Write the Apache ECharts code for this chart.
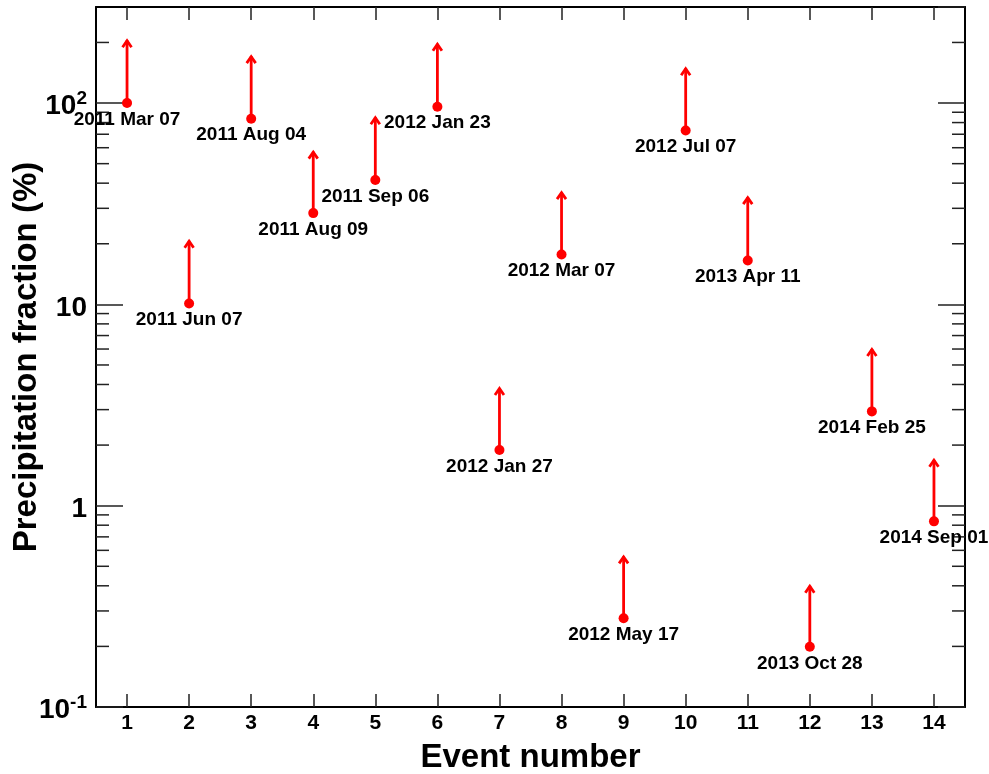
<!DOCTYPE html>
<html>
<head>
<meta charset="utf-8">
<script src="https://cdn.jsdelivr.net/npm/echarts@6/dist/echarts.min.js"></script>
<style>
html,body{margin:0;padding:0;background:#fff;}
#chart{width:989px;height:774px;}
</style>
</head>
<body>
<div id="chart"></div>
<script>
// ---- data ----
const eventNumbers = ['1','2','3','4','5','6','7','8','9','10','11','12','13','14'];
const eventDates = ['2011 Mar 07','2011 Jun 07','2011 Aug 04','2011 Aug 09','2011 Sep 06','2012 Jan 23',
  '2012 Jan 27','2012 Mar 07','2012 May 17','2012 Jul 07','2013 Apr 11','2013 Oct 28','2014 Feb 25','2014 Sep 01'];
const fractionValues = [100, 10.1, 83.6, 28.4, 41.5, 95.9, 1.89, 17.7, 0.276, 73.1, 16.5, 0.199, 2.94, 0.836];
const arrowTips = [205, 20.7, 171, 57.4, 85, 197, 3.84, 36.1, 0.56, 149, 34.1, 0.40, 6.0, 1.69];
const yMin = 0.1, yMax = 300;
const minorTickValues = [0.2,0.3,0.4,0.5,0.6,0.7,0.8,0.9, 2,3,4,5,6,7,8,9, 20,30,40,50,60,70,80,90, 200];

const FONT = '"Liberation Sans", Arial, Helvetica, sans-serif';
const chart = echarts.init(document.getElementById('chart'), null, {renderer:'canvas'});

function yLabel(v){
  const lg = Math.log10(v);
  const e = Math.round(lg);
  if (Math.abs(lg - e) > 1e-6) return '';
  if (e === 0) return '{m|1}';
  if (e === 1) return '{m|10}';
  return '{m|10}{s|' + e + '}';
}

const option = {
  animation: false,
  backgroundColor: '#fff',
  textStyle: {fontFamily: FONT},
  grid: {left: 96, right: 24, top: 7, bottom: 67, containLabel: false, outerBoundsMode: 'none'},
  xAxis: [{
    type: 'category', data: eventNumbers, boundaryGap: true, position: 'bottom',
    axisLine: {show: true, lineStyle: {color: '#000', width: 2}},
    axisTick: {show: true, inside: true, length: 13, alignWithLabel: true, lineStyle: {color: '#222', width: 1.5}},
    axisLabel: {show: true, margin: 6, fontSize: 21, fontWeight: 'bold', color: '#000', fontFamily: FONT, interval: 0},
    splitLine: {show: false},
    name: 'Event number', nameLocation: 'middle', nameGap: 34, nameMoveOverlap: false,
    nameTextStyle: {fontSize: 33, fontWeight: 'bold', color: '#000', fontFamily: FONT}
  }, {
    type: 'category', data: eventNumbers, boundaryGap: true, position: 'top',
    axisLine: {show: true, lineStyle: {color: '#000', width: 2}},
    axisTick: {show: true, inside: true, length: 13, alignWithLabel: true, lineStyle: {color: '#222', width: 1.5}},
    axisLabel: {show: false}, splitLine: {show: false}
  }],
  yAxis: [{
    type: 'log', logBase: 10, min: yMin, max: yMax, position: 'left',
    axisLine: {show: true, lineStyle: {color: '#000', width: 2}},
    axisTick: {show: true, inside: true, length: 27, lineStyle: {color: '#222', width: 1.5}},
    axisLabel: {
      show: true, margin: 9, formatter: yLabel, showMaxLabel: false,
      rich: {
        m: {fontSize: 28, fontWeight: 'bold', color: '#000', fontFamily: FONT, lineHeight: 30, padding: [7,0,0,0]},
        s: {fontSize: 19, fontWeight: 'bold', color: '#000', fontFamily: FONT, lineHeight: 20, padding: [0,0,9,0]}
      }
    },
    splitLine: {show: false},
    name: 'Precipitation fraction (%)', nameLocation: 'middle', nameGap: 53, nameMoveOverlap: false,
    nameTextStyle: {fontSize: 33, fontWeight: 'bold', color: '#000', fontFamily: FONT}
  }, {
    type: 'log', logBase: 10, min: yMin, max: yMax, position: 'right',
    axisLine: {show: true, lineStyle: {color: '#000', width: 2}},
    axisTick: {show: true, inside: true, length: 27, lineStyle: {color: '#222', width: 1.5}},
    axisLabel: {show: false}, splitLine: {show: false}
  }],
  series: [
    {
      type: 'custom', name: 'minorTicks', silent: true, z: 1,
      xAxisIndex: 0, yAxisIndex: 0,
      data: minorTickValues.map(v => [0, v]),
      renderItem: function(params, api){
        const cs = params.coordSys;
        const y = api.coord([0, api.value(1)])[1];
        const st = {stroke: '#222', lineWidth: 1.5};
        return {type: 'group', children: [
          {type: 'line', shape: {x1: cs.x, y1: y, x2: cs.x + 13, y2: y}, style: st},
          {type: 'line', shape: {x1: cs.x + cs.width - 13, y1: y, x2: cs.x + cs.width, y2: y}, style: st}
        ]};
      }
    },
    {
      type: 'custom', name: 'arrows', silent: true, z: 2,
      xAxisIndex: 0, yAxisIndex: 0,
      data: eventNumbers.map((c, i) => [i, fractionValues[i], arrowTips[i]]),
      renderItem: function(params, api){
        const p0 = api.coord([api.value(0), api.value(1)]);
        const p1 = api.coord([api.value(0), api.value(2)]);
        const st = {stroke: '#ff0000', lineWidth: 2.8, fill: null};
        return {type: 'group', children: [
          {type: 'line', shape: {x1: p0[0], y1: p0[1], x2: p1[0], y2: p1[1]}, style: st},
          {type: 'polyline', shape: {points: [[p1[0]-4.5, p1[1]+7], [p1[0], p1[1]+0.5], [p1[0]+4.5, p1[1]+7]]}, style: st}
        ]};
      }
    },
    {
      type: 'scatter', name: 'events', z: 3,
      xAxisIndex: 0, yAxisIndex: 0,
      symbol: 'circle', symbolSize: 10,
      itemStyle: {color: '#ff0000', opacity: 1},
      data: eventNumbers.map((c, i) => [i, fractionValues[i]]),
      label: {
        show: true, position: 'bottom', distance: 2,
        formatter: p => eventDates[p.dataIndex],
        fontSize: 19, fontWeight: 'bold', color: '#000', fontFamily: FONT, lineHeight: 19
      },
      labelLayout: {hideOverlap: false}
    }
  ]
};
chart.setOption(option);
</script>
</body>
</html>
